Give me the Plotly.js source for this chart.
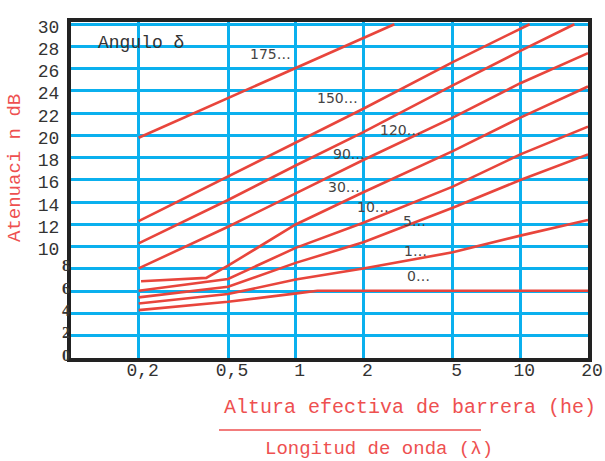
<!DOCTYPE html>
<html><head><meta charset="utf-8">
<script src="https://cdn.plot.ly/plotly-3.0.1.min.js"></script>
<style>html,body{margin:0;padding:0;background:#fff}#chart{width:605px;height:461px}</style>
</head><body><div id="chart"></div>
<script>
// ---- data ----
const xTickVals = [0.2, 0.5, 1, 2, 5, 10, 20];
const xTickText = ['0,2', '0,5', '1', '2', '5', '10', '20'];
const yTickVals = [0, 2, 4, 6, 8, 10, 12, 14, 16, 18, 20, 22, 24, 26, 28, 30];
const yTickText = ['0', '2', '4', '6', '8', '10', '12', '14', '16', '18', '20', '22', '24', '26', '28', '30'];

const angleNames = ['175…', '150…', '120…', '90…', '30…', '10…', '5…', '1…', '0…'];

const x175 = [0.2, 1, 2.75];
const y175 = [19.8, 26.1, 30];
const x150 = [0.2, 0.5, 1, 2, 5, 11];
const y150 = [12.3, 16.3, 19.3, 22.4, 26.6, 30];
const x120 = [0.2, 0.5, 1, 2, 5, 10, 17.4];
const y120 = [10.3, 14.2, 17.3, 20.3, 24.5, 27.6, 30];
const x90 = [0.2, 0.5, 1, 2, 5, 10, 20];
const y90 = [8.05, 11.8, 14.8, 17.8, 21.6, 24.7, 27.4];
const x30 = [0.205, 0.4, 0.5, 1, 2, 5, 10, 20];
const y30 = [6.9, 7.2, 8.3, 12.0, 14.9, 18.6, 21.6, 24.4];
const x10 = [0.2, 0.5, 1, 2, 5, 10, 20];
const y10 = [6.05, 7.1, 9.9, 12.15, 15.4, 18.3, 20.8];
const x5 = [0.2, 0.5, 1, 2, 5, 10, 20];
const y5 = [5.45, 6.4, 8.55, 10.4, 13.5, 16.0, 18.3];
const x1 = [0.2, 0.5, 1, 2, 5, 10, 20];
const y1 = [4.9, 5.75, 7.05, 8.05, 9.5, 11.0, 12.4];
const x0 = [0.2, 0.5, 1.05, 1.25, 20];
const y0 = [4.3, 5.05, 5.85, 6.05, 6.05];

const seriesX = [x175, x150, x120, x90, x30, x10, x5, x1, x0];
const seriesY = [y175, y150, y120, y90, y30, y10, y5, y1, y0];

// ---- styling / positions (pixels in the 605x461 frame) ----
const W = 605, H = 461;
const M = {l: 71, r: 17, t: 22, b: 103};
const PW = W - M.l - M.r, PH = H - M.t - M.b;
const px2paperX = px => (px - M.l) / PW;
const py2paperY = py => (H - M.b - py) / PH;
const labelPix = [[270, 54], [337, 98], [400, 130], [349, 154], [344, 187], [373, 207], [414, 221], [415, 251], [418, 276]];

const RED = '#e8453c';
const TITLE_RED = '#ee5050';
const traces = seriesX.map((xs, i) => ({
  x: xs, y: seriesY[i], type: 'scatter', mode: 'lines', name: angleNames[i],
  line: {color: RED, width: 2.6}, showlegend: false, hoverinfo: 'skip', cliponaxis: true
}));

const annotations = [];
angleNames.forEach((t, i) => {
  annotations.push({xref: 'paper', yref: 'paper', x: px2paperX(labelPix[i][0]), y: py2paperY(labelPix[i][1]),
    text: t, showarrow: false, xanchor: 'center', yanchor: 'middle',
    font: {family: 'DejaVu Sans', size: 14, color: '#444'}});
});
// small y tick labels 0..8 straddle the axis line
yTickVals.forEach((v, i) => {
  if (v < 10) annotations.push({xref: 'paper', yref: 'y', x: px2paperX(66), y: v, yshift: 3,
    text: '<b>' + yTickText[i] + '</b>', showarrow: false, xanchor: 'center', yanchor: 'middle',
    font: {family: 'Liberation Serif', size: 16, color: '#333'}});
});
annotations.push({xref: 'paper', yref: 'paper', x: px2paperX(141), y: py2paperY(43), text: 'Angulo δ',
  showarrow: false, xanchor: 'center', yanchor: 'middle', font: {family: 'Liberation Mono', size: 18, color: '#333'}});
annotations.push({xref: 'paper', yref: 'paper', x: px2paperX(15), y: py2paperY(168), text: 'Atenuaci n dB', textangle: -90,
  showarrow: false, xanchor: 'center', yanchor: 'middle', font: {family: 'Liberation Mono', size: 19, color: TITLE_RED}});
annotations.push({xref: 'paper', yref: 'paper', x: px2paperX(410), y: py2paperY(407), text: 'Altura efectiva de barrera (he)',
  showarrow: false, xanchor: 'center', yanchor: 'middle', font: {family: 'Liberation Mono', size: 20, color: TITLE_RED}});
annotations.push({xref: 'paper', yref: 'paper', x: px2paperX(379), y: py2paperY(449), text: 'Longitud de onda (λ)',
  showarrow: false, xanchor: 'center', yanchor: 'middle', font: {family: 'Liberation Mono', size: 19, color: TITLE_RED}});

const layout = {
  width: W, height: H, margin: M, paper_bgcolor: '#fff', plot_bgcolor: '#fff', showlegend: false,
  xaxis: {type: 'log', range: [Math.log10(0.1), Math.log10(20)], tickvals: xTickVals, ticktext: xTickText,
    showgrid: true, gridcolor: '#0bb0ee', gridwidth: 3, zeroline: false, ticks: '',
    showline: true, mirror: true, linecolor: '#222', linewidth: 4, ticklabelshift: 4,
    tickfont: {family: 'Liberation Mono', size: 18, color: '#333'}, ticklabelstandoff: -8, fixedrange: true},
  yaxis: {range: [0, 30.2], tickvals: yTickVals, ticktext: yTickVals.map((v, i) => v < 10 ? '' : yTickText[i]),
    showgrid: true, gridcolor: '#0bb0ee', gridwidth: 3, zeroline: false, ticks: '',
    showline: true, mirror: true, linecolor: '#222', linewidth: 4, ticklabelshift: 2, ticklabelstandoff: 4,
    tickfont: {family: 'Liberation Mono', size: 18, color: '#333'}, fixedrange: true},
  shapes: [{type: 'line', xref: 'paper', yref: 'paper', x0: px2paperX(219), x1: px2paperX(481),
    y0: py2paperY(430), y1: py2paperY(430), line: {color: TITLE_RED, width: 1.5}}],
  annotations: annotations
};
Plotly.newPlot('chart', traces, layout, {staticPlot: true, displayModeBar: false});
</script></body></html>
